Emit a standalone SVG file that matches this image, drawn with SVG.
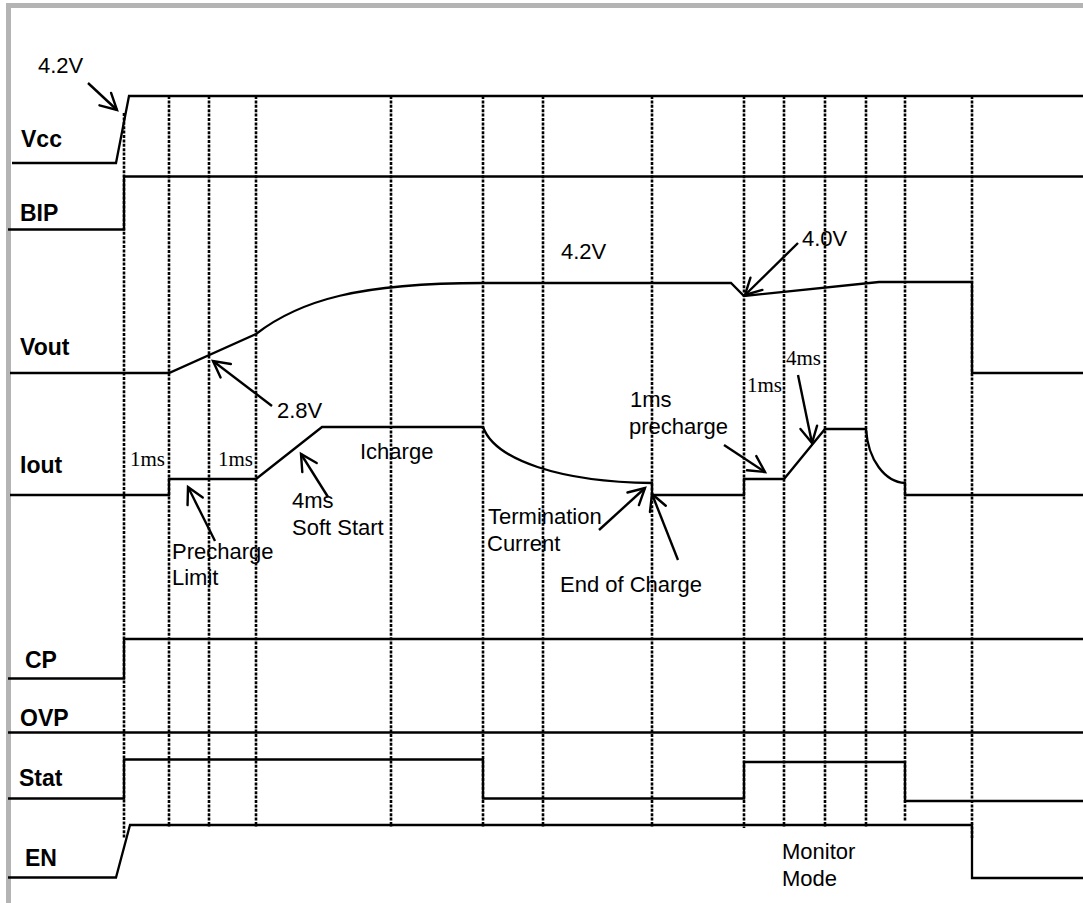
<svg xmlns="http://www.w3.org/2000/svg" width="1083" height="903" viewBox="0 0 1083 903">
<defs>
<style>
.sig{fill:none;stroke:#000;stroke-width:2.3;stroke-linejoin:miter}
.dot{fill:none;stroke:#000;stroke-width:2.6;stroke-dasharray:3 1.4}
.arr{fill:none;stroke:#000;stroke-width:2.4;marker-end:url(#ah)}
.lbl{font-family:"Liberation Sans",Arial,sans-serif;font-weight:bold;font-size:23px;fill:#000}
.t{font-family:"Liberation Sans",Arial,sans-serif;font-size:22px;fill:#000}
.s{font-family:"Liberation Serif","Times New Roman",serif;font-size:21px;fill:#000}
</style>
<marker id="ah" markerUnits="userSpaceOnUse" viewBox="-18 -11 20 22" markerWidth="20" markerHeight="22" refX="0" refY="0" orient="auto" overflow="visible">
<path d="M-16,-8.5 L0,0 L-16,8.5" fill="none" stroke="#000" stroke-width="2.4" stroke-linecap="round" stroke-linejoin="miter"/>
</marker>
</defs>
<rect width="1083" height="903" fill="#fff"/>
<path d="M8.5,903 V5.5 H1083" fill="none" stroke="#b4b4b4" stroke-width="5"/>

<g id="gridlines">
<line class="dot" x1="124" y1="113" x2="124" y2="838"/>
<line class="dot" x1="169" y1="96" x2="169" y2="827"/>
<line class="dot" x1="209" y1="96" x2="209" y2="827"/>
<line class="dot" x1="256" y1="96" x2="256" y2="827"/>
<line class="dot" x1="391" y1="96" x2="391" y2="827"/>
<line class="dot" x1="483" y1="96" x2="483" y2="827"/>
<line class="dot" x1="543" y1="96" x2="543" y2="827"/>
<line class="dot" x1="652" y1="96" x2="652" y2="827"/>
<line class="dot" x1="744" y1="96" x2="744" y2="828"/>
<line class="dot" x1="784" y1="96" x2="784" y2="827"/>
<line class="dot" x1="825" y1="96" x2="825" y2="827"/>
<line class="dot" x1="866" y1="96" x2="866" y2="827"/>
<line class="dot" x1="905" y1="96" x2="905" y2="822"/>
<line class="dot" x1="972" y1="96" x2="972" y2="838"/>
</g>

<g id="Vcc">
<text class="lbl" x="21" y="146.5">Vcc</text>
<polyline class="sig" points="12,163 116,163 129,96 1083,96"/>
</g>
<g id="BIP">
<text class="lbl" x="20" y="220.5">BIP</text>
<polyline class="sig" points="8,229.5 124,229.5 124,176.5 1083,176.5"/>
</g>
<g id="Vout">
<text class="lbl" x="20" y="354.5">Vout</text>
<path class="sig" d="M10,373 H169 L256,334 C300,300 360,283 483,283 H731 L744,296 L879,282 H972 V373 H1083"/>
</g>
<g id="Iout">
<text class="lbl" x="20" y="473">Iout</text>
<path class="sig" d="M10,495 H169 V479 H256 L322,427 H483 C495,460 560,482 652,483 V495 H744 V479 H784 L825,429 H866 C868,460 885,482 905,483 V495 H1083"/>
</g>
<g id="CP">
<text class="lbl" x="25" y="667.5">CP</text>
<polyline class="sig" points="8,678.5 124,678.5 124,639 1083,639"/>
</g>
<g id="OVP">
<text class="lbl" x="20" y="726">OVP</text>
<line class="sig" x1="8" y1="732.5" x2="1083" y2="732.5"/>
</g>
<g id="Stat">
<text class="lbl" x="19" y="785.5">Stat</text>
<polyline class="sig" points="8,798.5 124,798.5 124,759.5 483,759.5 483,798.5 744,798.5 744,762 905,762 905,801 1083,801"/>
</g>
<g id="EN">
<text class="lbl" x="25" y="866">EN</text>
<polyline class="sig" points="8,877.5 116,877.5 130,825 972,825 972,878 1083,878"/>
</g>

<g id="annotations">
<text class="t" x="38" y="73">4.2V</text>
<text class="t" x="561" y="259">4.2V</text>
<text class="t" x="802" y="246">4.0V</text>
<text class="t" x="277" y="418">2.8V</text>
<text class="s" x="130" y="466">1ms</text>
<text class="s" x="218" y="466">1ms</text>
<text class="t" x="360" y="459">Icharge</text>
<text class="t" x="292" y="508">4ms</text>
<text class="t" x="292" y="535">Soft Start</text>
<text class="t" x="172" y="559">Precharge</text>
<text class="t" x="172" y="585">Limit</text>
<text class="t" x="488" y="524">Termination</text>
<text class="t" x="487" y="551">Current</text>
<text class="t" x="560" y="592">End of Charge</text>
<text class="t" x="630" y="407">1ms</text>
<text class="t" x="629" y="434">precharge</text>
<text class="s" x="747" y="392">1ms</text>
<text class="s" x="786" y="365">4ms</text>
<text class="t" x="782" y="859">Monitor</text>
<text class="t" x="782" y="886">Mode</text>
</g>

<g id="connectors">
<line class="arr" x1="88" y1="83" x2="117" y2="110"/>
<line class="arr" x1="272" y1="406" x2="213" y2="361"/>
<line class="arr" x1="215" y1="541" x2="188" y2="487"/>
<line class="arr" x1="328" y1="497" x2="301" y2="454"/>
<line class="arr" x1="599" y1="530" x2="645" y2="488"/>
<line class="arr" x1="678" y1="560" x2="652" y2="494"/>
<line class="arr" x1="724" y1="445" x2="765" y2="472"/>
<line class="arr" x1="798" y1="375" x2="812" y2="443"/>
<line class="arr" x1="798" y1="243" x2="745" y2="295"/>
</g>
</svg>
